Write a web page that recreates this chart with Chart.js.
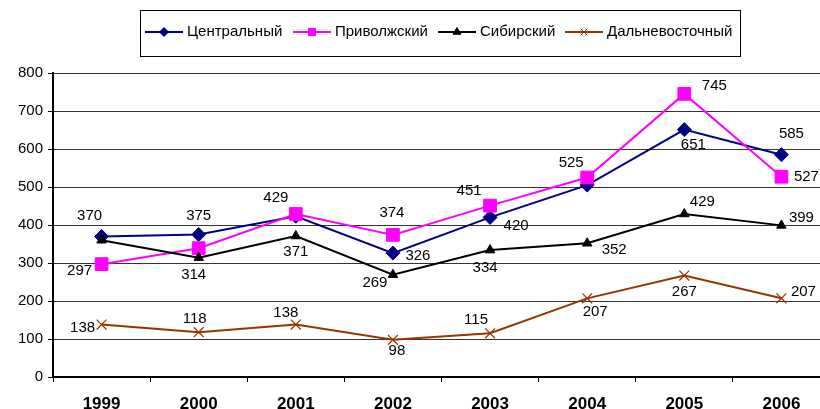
<!DOCTYPE html>
<html>
<head>
<meta charset="utf-8">
<script src="https://cdn.jsdelivr.net/npm/chart.js@4.4.1/dist/chart.umd.min.js"></script>
<style>
  html, body { margin: 0; padding: 0; background: #fff; overflow: hidden; }
  #wrap { width: 820px; height: 409px; overflow: hidden; position: relative; }
  canvas { display: block; }
</style>
</head>
<body>
<div id="wrap"><canvas id="c" width="840" height="409"></canvas></div>
<script>
// ---- data ----
const years = ['1999', '2000', '2001', '2002', '2003', '2004', '2005', '2006'];
const seriesNames = ['Центральный', 'Приволжский', 'Сибирский', 'Дальневосточный'];
const central = [370, 375, 423, 326, 420, 505, 651, 585];
const privolzh = [297, 339, 429, 374, 451, 525, 745, 527];
const sibir = [360, 314, 371, 269, 334, 352, 429, 399];
const dalnevost = [138, 118, 138, 98, 115, 207, 267, 207];
const yTicks = [0, 100, 200, 300, 400, 500, 600, 700, 800];

// ---- label placement (pixel offsets from point; null = no label) ----
const lblCentral = [[-12,-21],[0,-19],null,[25,3],[26,8],null,[9,15],[10,-21]];
const lblPriv = [[-22,7],null,[-20,-16],[-1,-22],[-21,-15],[-16,-15],[30,-8],[25,0]];
const lblSib = [null,[-5,17],[0,16],[-18,8],[-5,18],[27,7],[18,-12],[20,-8]];
const lblDal = [[-19,3],[-4,-13],[-10,-12],[4,11],[-14,-13],[8,14],[0,16],[22,-6]];

const colors = ['#000080', '#FF00FF', '#000000', '#993300'];
const styles = ['rectRot', 'rect', 'triangle', 'crossRot'];
const radii = [7, 9, 5.5, 7];
const legendRadii = [4.5, 5, 4.5, 4.5];
const allLabels = [lblCentral, lblPriv, lblSib, lblDal];
const allData = [central, privolzh, sibir, dalnevost];

const datasets = allData.map((d, i) => ({
  label: seriesNames[i],
  data: d,
  borderColor: colors[i],
  backgroundColor: colors[i],
  borderWidth: 2,
  pointStyle: styles[i],
  pointRadius: radii[i],
  pointBorderWidth: i === 3 ? 1.2 : 1,
  pointBorderColor: colors[i],
  pointBackgroundColor: colors[i],
  tension: 0,
  order: 3 - i
}));

const labelPlugin = {
  id: 'valueLabels',
  afterDatasetsDraw(chart) {
    const ctx = chart.ctx;
    ctx.save();
    ctx.font = '15px "Liberation Sans", Arial, sans-serif';
    ctx.fillStyle = '#000';
    ctx.textAlign = 'center';
    ctx.textBaseline = 'middle';
    chart.data.datasets.forEach((ds, i) => {
      const meta = chart.getDatasetMeta(i);
      meta.data.forEach((pt, j) => {
        const off = allLabels[i][j];
        if (!off) return;
        ctx.fillText(String(ds.data[j]), pt.x + off[0], pt.y + off[1]);
      });
    });
    ctx.restore();
  }
};

const legendPlugin = {
  id: 'customLegend',
  afterDraw(chart) {
    const ctx = chart.ctx;
    ctx.save();
    ctx.strokeStyle = '#000';
    ctx.lineWidth = 1;
    ctx.strokeRect(140.5, 10.5, 600, 46);
    const starts = [145, 293, 438, 565];
    const cy = 32;
    ctx.font = '15px "Liberation Sans", Arial, sans-serif';
    ctx.textBaseline = 'middle';
    ctx.textAlign = 'left';
    seriesNames.forEach((name, i) => {
      const x0 = starts[i];
      ctx.strokeStyle = colors[i];
      ctx.lineWidth = 2;
      ctx.beginPath();
      ctx.moveTo(x0, cy);
      ctx.lineTo(x0 + 38, cy);
      ctx.stroke();
      ctx.fillStyle = colors[i];
      ctx.lineWidth = 1;
      Chart.helpers.drawPoint(ctx, {pointStyle: styles[i], radius: legendRadii[i], rotation: 0, borderWidth: 1}, x0 + 19, cy);
      ctx.fillStyle = '#000';
      ctx.fillText(name, x0 + 42, cy);
    });
    ctx.restore();
  }
};

new Chart(document.getElementById('c'), {
  type: 'line',
  data: { labels: years, datasets },
  plugins: [labelPlugin, legendPlugin],
  options: {
    responsive: false,
    animation: false,
    devicePixelRatio: 1,
    events: [],
    layout: { padding: { top: 73, right: 9, left: 0, bottom: 0 } },
    plugins: { legend: { display: false }, tooltip: { enabled: false }, title: { display: false } },
    scales: {
      x: {
        offset: true,
        grid: { offset: true, drawOnChartArea: false, tickLength: 5, color: '#000', tickColor: '#000', lineWidth: 1 },
        border: { color: '#000', width: 2 },
        ticks: { color: '#000', padding: 12, font: { family: '"Liberation Sans", Arial, sans-serif', size: 17, weight: 'bold' }, maxRotation: 0 },
        afterFit(scale) { scale.height = 32; }
      },
      y: {
        min: 0, max: 800,
        afterBuildTicks(scale) { scale.ticks = yTicks.map(v => ({ value: v })); },
        grid: { color: '#333', tickColor: '#000', lineWidth: 1, tickLength: 5 },
        border: { color: '#000', width: 2 },
        ticks: { color: '#000', padding: 5, font: { family: '"Liberation Sans", Arial, sans-serif', size: 15 } },
        afterFit(scale) { scale.width = 53; }
      }
    }
  }
});
</script>
</body>
</html>
